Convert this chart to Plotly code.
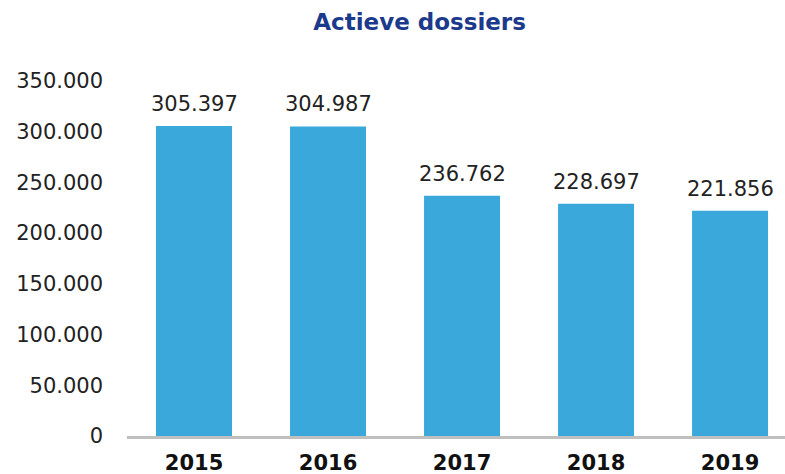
import plotly.graph_objects as go

years = ["2015", "2016", "2017", "2018", "2019"]
values = [305397, 304987, 236762, 228697, 221856]
value_labels = ["305.397", "304.987", "236.762", "228.697", "221.856"]
tick_vals = [0, 50000, 100000, 150000, 200000, 250000, 300000, 350000]
tick_text = ["0", "50.000", "100.000", "150.000", "200.000", "250.000", "300.000", "350.000"]

BAR = "#3AA8DA"
NAVY = "#1B3A8C"
FONT = "DejaVu Sans"

fig = go.Figure()
fig.add_trace(go.Bar(x=list(range(len(years))), y=values, marker=dict(color=BAR, line=dict(width=0)),
                     width=0.567, hoverinfo="skip"))

for i, (v, t) in enumerate(zip(values, value_labels)):
    fig.add_annotation(x=i, y=v, text=t, showarrow=False, yanchor="bottom", yshift=8,
                       font=dict(family=FONT, size=21, color="#222222"))

fig.update_layout(
    width=785, height=474,
    margin=dict(l=127, r=0, t=60, b=38, autoexpand=False),
    paper_bgcolor="white", plot_bgcolor="white",
    showlegend=False,
    title=dict(text="<b>Actieve dossiers</b>", x=0.5345, xanchor="center", y=0.953, yanchor="middle",
               font=dict(family=FONT, size=23, color=NAVY)),
    xaxis=dict(tickmode="array", tickvals=list(range(len(years))), ticktext=[f"<b>{y}</b>" for y in years],
               range=[-0.5, 4.41], showgrid=False, zeroline=False, automargin=False,
               showline=True, linecolor="#BFBFBF", linewidth=3,
               ticks="", ticklabelstandoff=6,
               tickfont=dict(family=FONT, size=21, color="#111111"), fixedrange=True),
    yaxis=dict(tickmode="array", tickvals=tick_vals, ticktext=tick_text,
               range=[0, 370400], showgrid=False, zeroline=False, showline=False, automargin=False,
               ticks="", ticklabelstandoff=23,
               tickfont=dict(family=FONT, size=21, color="#222222"), fixedrange=True),
)

fig.write_html("out.html", config={"displayModeBar": False},
               post_script="document.body.style.margin='0';document.body.style.padding='0';")
